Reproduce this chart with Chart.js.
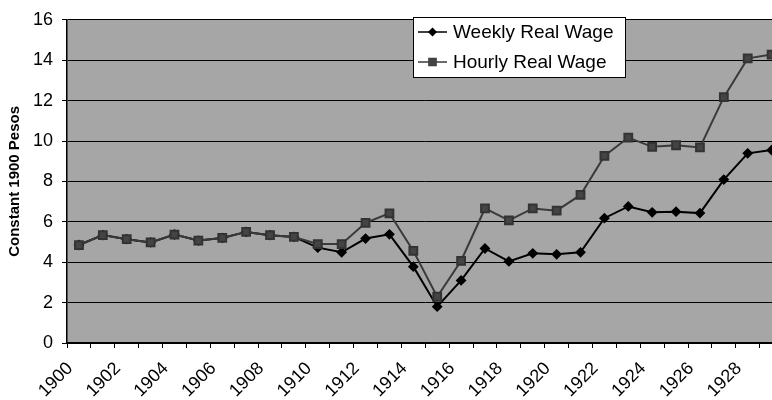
<!DOCTYPE html>
<html>
<head>
<meta charset="utf-8">
<script src="https://cdn.jsdelivr.net/npm/chart.js@4/dist/chart.umd.min.js"></script>
<style>
  html, body { margin: 0; padding: 0; background: #fff; overflow: hidden; }
  #wrap { position: relative; width: 797px; height: 400px; }
</style>
</head>
<body>
<div id="wrap"><canvas id="chart"></canvas></div>
<script>
const years = ['1900', '1901', '1902', '1903', '1904', '1905', '1906', '1907', '1908', '1909',
  '1910', '1911', '1912', '1913', '1914', '1915', '1916', '1917', '1918', '1919',
  '1920', '1921', '1922', '1923', '1924', '1925', '1926', '1927', '1928', '1929']

const weeklyWage = [4.85, 5.34, 5.14, 4.98, 5.37, 5.07, 5.2, 5.5, 5.34, 5.25,
  4.72, 4.49, 5.17, 5.38, 3.78, 1.8, 3.1, 4.68, 4.04, 4.44,
  4.39, 4.49, 6.18, 6.76, 6.47, 6.5, 6.43, 8.09, 9.39, 9.55]

const hourlyWage = [4.85, 5.34, 5.14, 4.98, 5.37, 5.07, 5.2, 5.5, 5.34, 5.25,
  4.9, 4.9, 5.95, 6.42, 4.56, 2.29, 4.07, 6.66, 6.07, 6.66,
  6.55, 7.33, 9.26, 10.17, 9.71, 9.79, 9.68, 12.17, 14.09, 14.28]

const yTicks = [0, 2, 4, 6, 8, 10, 12, 14, 16]

const FONT = 'Arial, "Liberation Sans", sans-serif'

// gray plot area, like the old spreadsheet fill
const plotFill = {
  id: 'plotFill',
  beforeDraw(chart) {
    let { ctx, chartArea: a } = chart
    ctx.save()
    ctx.fillStyle = '#a6a6a6'
    ctx.fillRect(a.left, a.top, a.right - a.left, a.bottom - a.top)
    ctx.restore()
  }
}

// boxed legend sitting inside the plot
const boxLegend = {
  id: 'boxLegend',
  afterDraw(chart) {
    let ctx = chart.ctx
    let x = 413, y = 17, w = 212, h = 60
    ctx.save()
    ctx.fillStyle = '#fff'
    ctx.fillRect(x, y, w, h)
    ctx.strokeStyle = '#000'
    ctx.lineWidth = 1
    ctx.strokeRect(x + 0.5, y + 0.5, w, h)
    chart.data.datasets.forEach((ds, i) => {
      let ly = y + 15 + i * 30
      ctx.strokeStyle = ds.borderColor
      ctx.lineWidth = 1.5
      ctx.beginPath()
      ctx.moveTo(x + 5, ly)
      ctx.lineTo(x + 34, ly)
      ctx.stroke()
      Chart.helpers.drawPoint(ctx, {
        pointStyle: ds.pointStyle,
        radius: ds.pointRadius - 0.5,
        borderWidth: 1
      }, x + 19.5, ly)
      ctx.fillStyle = ds.pointBackgroundColor
      ctx.strokeStyle = ds.pointBorderColor
      ctx.fill()
      ctx.fillStyle = '#000'
      ctx.font = '19px ' + FONT
      ctx.textBaseline = 'middle'
      ctx.textAlign = 'left'
      ctx.fillText(ds.label, x + 40, ly + 1)
    })
    ctx.restore()
  }
}

let chart = new Chart(document.getElementById('chart'), {
  type: 'line',
  data: {
    labels: years,
    datasets: [
      {
        label: 'Weekly Real Wage',
        data: weeklyWage,
        borderColor: '#000',
        borderWidth: 2,
        pointStyle: 'rectRot',
        pointRadius: 4,
        pointBackgroundColor: '#000',
        pointBorderColor: '#000',
        tension: 0,
        order: 2
      },
      {
        label: 'Hourly Real Wage',
        data: hourlyWage,
        borderColor: '#3a3a3a',
        borderWidth: 2,
        pointStyle: 'rect',
        pointRadius: 5.5,
        pointBackgroundColor: '#444',
        pointBorderColor: '#333',
        tension: 0,
        order: 1
      }
    ]
  },
  options: {
    responsive: true,
    maintainAspectRatio: false,
    animation: false,
    layout: { padding: { top: 14, right: 6, left: 0, bottom: 0 } },
    plugins: {
      legend: { display: false },
      tooltip: { enabled: false }
    },
    scales: {
      x: {
        type: 'category',
        offset: true,
        grid: {
          offset: true,
          drawOnChartArea: false,
          drawTicks: true,
          tickLength: 5,
          color: '#000'
        },
        border: { display: true, color: '#000', width: 1.5 },
        ticks: {
          autoSkip: false,
          minRotation: 45,
          maxRotation: 45,
          color: '#000',
          padding: 10,
          labelOffset: -9,
          font: { family: FONT, size: 18 },
          callback(value, index) {
            return index % 2 === 0 ? this.getLabelForValue(value) : ''
          }
        },
        afterFit(scale) { scale.height = 57 }
      },
      y: {
        min: 0,
        max: 16,
        afterBuildTicks(scale) {
          scale.ticks = yTicks.map(v => ({ value: v }))
        },
        grid: {
          color: '#000',
          lineWidth: 1,
          tickLength: 5,
          drawTicks: true
        },
        border: { display: true, color: '#000', width: 1.5 },
        ticks: {
          color: '#000',
          padding: 9,
          font: { family: FONT, size: 18 }
        },
        title: {
          display: true,
          text: 'Constant 1900 Pesos',
          color: '#000',
          padding: { top: 6, bottom: 0 },
          font: { family: FONT, size: 15, weight: 'bold' }
        },
        afterFit(scale) { scale.width = 67 }
      }
    }
  },
  plugins: [plotFill, boxLegend]
})
</script>
</body>
</html>
